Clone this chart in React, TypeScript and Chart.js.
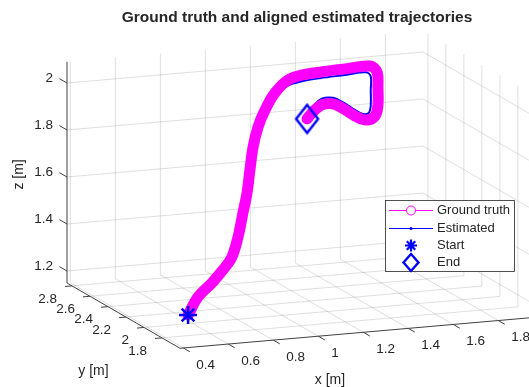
import React, { useEffect, useRef } from 'react';
import { Chart, registerables } from 'chart.js';

Chart.register(...registerables);

// ---------------- data ----------------
const TITLE = 'Ground truth and aligned estimated trajectories';
const X_LABEL = 'x [m]';
const Y_LABEL = 'y [m]';
const Z_LABEL = 'z [m]';

const X_LIM = [0.385, 1.967];
const Y_LIM = [1.6, 2.855];
const Z_LIM = [1.149, 2.09];

const X_TICKS = [0.4, 0.6, 0.8, 1, 1.2, 1.4, 1.6, 1.8];
const X_TICK_LABELS = ['0.4', '0.6', '0.8', '1', '1.2', '1.4', '1.6', '1.8'];
const Y_TICKS = [1.8, 2, 2.2, 2.4, 2.6, 2.8];
const Y_TICK_LABELS = ['1.8', '2', '2.2', '2.4', '2.6', '2.8'];
const Z_TICKS = [1.2, 1.4, 1.6, 1.8, 2];
const Z_TICK_LABELS = ['1.2', '1.4', '1.6', '1.8', '2'];

const gtX = [0.601, 0.649, 0.719, 0.776, 0.824, 0.859, 0.889, 0.915, 0.936, 0.958, 0.992, 1.035, 1.095, 1.169, 1.247, 1.339, 1.467, 1.598, 1.645, 1.657, 1.657, 1.640, 1.592, 1.531, 1.474, 1.417, 1.360, 1.316, 1.286];
const gtY = [2.05, 2.06, 2.08, 2.10, 2.12, 2.14, 2.16, 2.18, 2.20, 2.22, 2.25, 2.28, 2.32, 2.36, 2.40, 2.43, 2.47, 2.52, 2.56, 2.58, 2.58, 2.57, 2.55, 2.52, 2.50, 2.48, 2.46, 2.45, 2.44];
const gtZ = [1.173, 1.243, 1.293, 1.339, 1.386, 1.463, 1.559, 1.637, 1.729, 1.820, 1.896, 1.958, 2.017, 2.057, 2.063, 2.061, 2.055, 2.045, 2.007, 1.934, 1.861, 1.818, 1.809, 1.838, 1.877, 1.908, 1.913, 1.889, 1.864];

const estX = [0.602, 0.650, 0.718, 0.777, 0.823, 0.860, 0.888, 0.916, 0.935, 0.959, 0.993, 1.036, 1.096, 1.169, 1.247, 1.339, 1.467, 1.580, 1.617, 1.625, 1.625, 1.613, 1.580, 1.531, 1.474, 1.417, 1.360, 1.316, 1.286];
const estY = [2.05, 2.06, 2.08, 2.10, 2.12, 2.14, 2.16, 2.18, 2.20, 2.22, 2.25, 2.28, 2.32, 2.36, 2.40, 2.43, 2.47, 2.52, 2.56, 2.58, 2.58, 2.57, 2.55, 2.52, 2.50, 2.48, 2.46, 2.45, 2.44];
const estZ = [1.174, 1.242, 1.294, 1.338, 1.387, 1.462, 1.560, 1.636, 1.730, 1.819, 1.895, 1.955, 2.006, 2.033, 2.036, 2.035, 2.029, 2.020, 1.990, 1.928, 1.861, 1.835, 1.836, 1.864, 1.903, 1.934, 1.939, 1.910, 1.868];

const LEGEND_LABELS = ['Ground truth', 'Estimated', 'Start', 'End'];

// ---------------- view / style ----------------
const W = 529;
const H = 387;
const VIEW = { u0: 67, v0: 283, xu: 225, xv: -19.6, yu: -90, yv: -52, zv: -235 };
const FONT = '"Liberation Sans", Arial, Helvetica, sans-serif';
const TEXT = '#262626';
const GRID = 'rgba(38,38,38,0.15)';
const AXIS = '#404040';
const MAGENTA = '#ff00ff';
const BLUE = '#0000ff';

type P = { x: number; y: number };

function proj(x: number, y: number, z: number): P {
  const dx = x - X_LIM[0];
  const dy = y - Y_LIM[1];
  const dz = z - Z_LIM[0];
  return {
    x: VIEW.u0 + VIEW.xu * dx + VIEW.yu * dy,
    y: VIEW.v0 + VIEW.xv * dx + VIEW.yv * dy + VIEW.zv * dz,
  };
}

function makeDiamond(hw: number, hh: number, lw: number, color: string): HTMLCanvasElement {
  const c = document.createElement('canvas');
  const pad = lw + 1;
  c.width = Math.ceil(2 * hw + 2 * pad);
  c.height = Math.ceil(2 * hh + 2 * pad);
  const ctx = c.getContext('2d')!;
  const cx = c.width / 2;
  const cy = c.height / 2;
  ctx.strokeStyle = color;
  ctx.lineWidth = lw;
  ctx.lineJoin = 'miter';
  ctx.beginPath();
  ctx.moveTo(cx, cy - hh);
  ctx.lineTo(cx + hw, cy);
  ctx.lineTo(cx, cy + hh);
  ctx.lineTo(cx - hw, cy);
  ctx.closePath();
  ctx.stroke();
  return c;
}

function buildDatasets(diamond: HTMLCanvasElement) {
  const ds: any[] = [];
  const seg = (a: P, b: P, color: string, width: number, order: number) => {
    ds.push({
      data: [a, b],
      showLine: true,
      borderColor: color,
      borderWidth: width,
      pointRadius: 0,
      tension: 0,
      order,
    });
  };
  const [x0, x1] = X_LIM;
  const [y0, y1] = Y_LIM;
  const [z0, z1] = Z_LIM;

  // grid on the three back planes
  X_TICKS.forEach((x) => {
    seg(proj(x, y1, z0), proj(x, y1, z1), GRID, 1, 20);
    seg(proj(x, y0, z0), proj(x, y1, z0), GRID, 1, 20);
  });
  Y_TICKS.forEach((y) => {
    seg(proj(x1, y, z0), proj(x1, y, z1), GRID, 1, 20);
    seg(proj(x0, y, z0), proj(x1, y, z0), GRID, 1, 20);
  });
  Z_TICKS.forEach((z) => {
    seg(proj(x0, y1, z), proj(x1, y1, z), GRID, 1, 20);
    seg(proj(x1, y1, z), proj(x1, y0, z), GRID, 1, 20);
  });

  // axis lines
  seg(proj(x0, y1, z0), proj(x0, y1, z1), AXIS, 1, 15);
  seg(proj(x0, y0, z0), proj(x0, y1, z0), AXIS, 1, 15);
  seg(proj(x0, y0, z0), proj(x1, y0, z0), AXIS, 1, 15);

  // tick marks
  X_TICKS.forEach((x) => seg(proj(x, y0, z0), proj(x, y0 - 0.072, z0), AXIS, 1, 15));
  Y_TICKS.forEach((y) => seg(proj(x0, y, z0), proj(x0 - 0.031, y, z0), AXIS, 1, 15));
  Z_TICKS.forEach((z) => seg(proj(x0, y1, z), proj(x0, y1 + 0.085, z), AXIS, 1, 15));

  const est = estX.map((x, i) => proj(x, estY[i], estZ[i]));
  const gt = gtX.map((x, i) => proj(x, gtY[i], gtZ[i]));

  ds.push({
    label: LEGEND_LABELS[1],
    data: est,
    showLine: true,
    borderColor: BLUE,
    borderWidth: 2,
    pointRadius: 0,
    tension: 0.35,
    borderJoinStyle: 'round',
    borderCapStyle: 'round',
    order: 6,
  });
  ds.push({
    label: LEGEND_LABELS[0],
    data: gt,
    showLine: true,
    borderColor: MAGENTA,
    borderWidth: 11,
    pointRadius: 0,
    tension: 0.35,
    borderJoinStyle: 'round',
    borderCapStyle: 'round',
    order: 5,
  });
  ds.push({
    label: LEGEND_LABELS[2],
    data: [gt[0]],
    showLine: false,
    pointStyle: 'star',
    pointRadius: 9,
    borderColor: BLUE,
    backgroundColor: BLUE,
    borderWidth: 2.5,
    order: 1,
  });
  ds.push({
    label: LEGEND_LABELS[3],
    data: [gt[gt.length - 1]],
    showLine: false,
    pointStyle: diamond,
    pointRadius: 12,
    borderColor: BLUE,
    order: 1,
  });
  return ds;
}

const textPlugin = {
  id: 'matlab3dText',
  afterDraw(chart: any) {
    const ctx = chart.ctx as CanvasRenderingContext2D;
    const sx = chart.scales.x;
    const sy = chart.scales.y;
    const px = (p: P): P => ({ x: sx.getPixelForValue(p.x), y: sy.getPixelForValue(p.y) });
    const [x0, x1] = X_LIM;
    const [y0, y1] = Y_LIM;
    const [z0] = Z_LIM;
    ctx.save();
    ctx.fillStyle = TEXT;

    // title
    ctx.font = `bold 15.5px ${FONT}`;
    ctx.textAlign = 'center';
    ctx.textBaseline = 'middle';
    ctx.fillText(TITLE, 297, 18);

    // tick labels
    ctx.font = `13.5px ${FONT}`;
    ctx.textAlign = 'left';
    X_TICKS.forEach((x, i) => {
      const p = px(proj(x, y0, z0));
      ctx.fillText(X_TICK_LABELS[i], p.x + 13, p.y + 17);
    });
    ctx.textAlign = 'right';
    Y_TICKS.forEach((y, i) => {
      const p = px(proj(x0, y, z0));
      ctx.fillText(Y_TICK_LABELS[i], p.x - 15, p.y + 13);
    });
    Z_TICKS.forEach((z, i) => {
      const p = px(proj(x0, y1, z));
      ctx.fillText(Z_TICK_LABELS[i], p.x - 14, p.y - 5);
    });

    // axis labels
    ctx.font = `14px ${FONT}`;
    ctx.textAlign = 'center';
    const xl = px(proj((x0 + x1) / 2, y0, z0));
    ctx.fillText(X_LABEL, xl.x - 28, xl.y + 47);
    const yl = px(proj(x0, (y0 + y1) / 2, z0));
    ctx.fillText(Y_LABEL, yl.x - 30, yl.y + 56);
    const zl = px(proj(x0, y1, (Z_LIM[0] + Z_LIM[1]) / 2));
    ctx.save();
    ctx.translate(zl.x - 48, zl.y + 2);
    ctx.rotate(-Math.PI / 2);
    ctx.fillText(Z_LABEL, 0, 0);
    ctx.restore();

    // legend
    const L = 385, T = 200, R = 515, B = 272;
    ctx.fillStyle = '#ffffff';
    ctx.fillRect(L, T, R - L, B - T);
    ctx.strokeStyle = '#262626';
    ctx.lineWidth = 0.8;
    ctx.strokeRect(L + 0.5, T + 0.5, R - L - 1, B - T - 1);
    const rows = [210.5, 228.5, 245.5, 262.5];
    const lx0 = 389, lx1 = 433, mx = 411;
    // ground truth
    ctx.strokeStyle = MAGENTA;
    ctx.lineWidth = 1;
    ctx.beginPath();
    ctx.moveTo(lx0, rows[0]); ctx.lineTo(mx - 4.5, rows[0]);
    ctx.moveTo(mx + 4.5, rows[0]); ctx.lineTo(lx1, rows[0]);
    ctx.stroke();
    ctx.beginPath();
    ctx.arc(mx, rows[0], 4.5, 0, Math.PI * 2);
    ctx.stroke();
    // estimated
    ctx.strokeStyle = BLUE;
    ctx.fillStyle = BLUE;
    ctx.beginPath();
    ctx.moveTo(lx0, rows[1]); ctx.lineTo(lx1, rows[1]);
    ctx.stroke();
    ctx.beginPath();
    ctx.arc(mx, rows[1], 1.6, 0, Math.PI * 2);
    ctx.fill();
    // start (asterisk)
    ctx.lineWidth = 2.2;
    ctx.beginPath();
    const r = 6;
    for (let k = 0; k < 4; k++) {
      const a = (k * Math.PI) / 4;
      ctx.moveTo(mx - r * Math.cos(a), rows[2] - r * Math.sin(a));
      ctx.lineTo(mx + r * Math.cos(a), rows[2] + r * Math.sin(a));
    }
    ctx.stroke();
    // end (diamond)
    ctx.lineWidth = 2.4;
    ctx.beginPath();
    ctx.moveTo(mx, rows[3] - 8.5);
    ctx.lineTo(mx + 7.5, rows[3]);
    ctx.lineTo(mx, rows[3] + 8.5);
    ctx.lineTo(mx - 7.5, rows[3]);
    ctx.closePath();
    ctx.stroke();

    ctx.fillStyle = TEXT;
    ctx.font = `13px ${FONT}`;
    ctx.textAlign = 'left';
    ctx.textBaseline = 'middle';
    LEGEND_LABELS.forEach((lab, i) => ctx.fillText(lab, 437, rows[i]));
    ctx.restore();
  },
};

export default function App() {
  const ref = useRef<HTMLCanvasElement | null>(null);
  useEffect(() => {
    if (!ref.current) return;
    const diamond = makeDiamond(11, 14, 2.4, BLUE);
    const chart = new Chart(ref.current, {
      type: 'scatter',
      data: { datasets: buildDatasets(diamond) },
      options: {
        animation: false,
        responsive: false,
        devicePixelRatio: 1,
        layout: { padding: 0, autoPadding: false },
        plugins: {
          legend: { display: false },
          title: { display: false },
          tooltip: { enabled: false },
        },
        events: [],
        scales: {
          x: { type: 'linear', min: 0, max: W, display: false },
          y: { type: 'linear', min: 0, max: H, reverse: true, display: false },
        },
      },
      plugins: [textPlugin],
    });
    return () => chart.destroy();
  }, []);
  return (
    <div style={{ position: 'fixed', left: 0, top: 0, width: W, height: H, background: '#fff' }}>
      <canvas ref={ref} width={W} height={H} style={{ display: 'block' }} />
    </div>
  );
}
